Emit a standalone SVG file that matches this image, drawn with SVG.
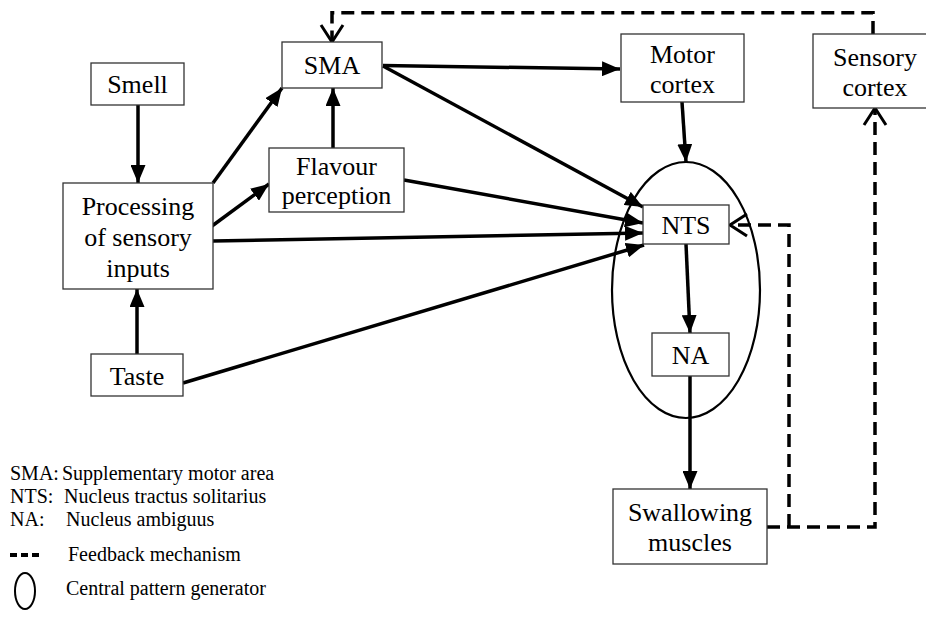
<svg xmlns="http://www.w3.org/2000/svg" width="926" height="626" viewBox="0 0 926 626">
<style>
.box{fill:#fff;stroke:#333;stroke-width:1.3}
text{font-family:"Liberation Serif","Times New Roman","DejaVu Serif",serif}
.t{font-size:26px;fill:#000;text-anchor:middle}
.lg{font-size:20px;fill:#000}
.c{fill:none;stroke:#000;stroke-width:3.5}
.s{marker-end:url(#ah)}
.d{fill:none;stroke:#000;stroke-width:3.5;stroke-dasharray:13 7}
</style>
<defs>
<marker id="ah" markerUnits="userSpaceOnUse" markerWidth="18" markerHeight="15" refX="18" refY="7.5" orient="auto">
<path d="M0,0 L18,7.5 L0,15 z" fill="#000"/>
</marker>
<marker id="ov" markerUnits="userSpaceOnUse" markerWidth="22" markerHeight="26" refX="19" refY="13" orient="auto">
<path d="M2,2 L19,13 L2,24" fill="none" stroke="#000" stroke-width="3"/>
</marker>
</defs>
<g id="cpg"><ellipse cx="686" cy="290" rx="74" ry="128" fill="none" stroke="#000" stroke-width="2.2"/></g>
<g id="connectors">
<line class="c s" x1="138" y1="105" x2="138" y2="183"/>
<line class="c s" x1="137" y1="354" x2="137" y2="289"/>
<line class="c s" x1="213" y1="183" x2="282" y2="88"/>
<line class="c s" x1="212" y1="226" x2="269" y2="184"/>
<line class="c s" x1="213" y1="241" x2="643" y2="233"/>
<line class="c s" x1="333" y1="148" x2="333" y2="88"/>
<line class="c s" x1="404" y1="180" x2="643" y2="223"/>
<line class="c s" x1="383" y1="65.5" x2="620" y2="69"/>
<line class="c s" x1="383" y1="66" x2="643" y2="207"/>
<line class="c s" x1="183" y1="383" x2="644" y2="245"/>
<line class="c s" x1="682" y1="102" x2="686" y2="162"/>
<line class="c s" x1="686" y1="244" x2="690" y2="333"/>
<line class="c s" x1="690" y1="376" x2="690" y2="489"/>
<path class="d" d="M873,34 V12.7 H332 V42" marker-end="url(#ov)"/>
<path class="d" d="M767,527 H875 V108" marker-end="url(#ov)"/>
<path class="d" d="M789,527 V225 H730" marker-end="url(#ov)"/>
</g>
<g id="smell"><rect class="box" x="91" y="63" width="93" height="42"/><text class="t" x="137.5" y="93">Smell</text></g>
<g id="sma"><rect class="box" x="282" y="42" width="100" height="46"/><text class="t" x="332" y="74">SMA</text></g>
<g id="motor"><rect class="box" x="621" y="34" width="123" height="68"/><text class="t" x="682.5" y="63">Motor</text><text class="t" x="682.5" y="93">cortex</text></g>
<g id="sensory"><rect class="box" x="813" y="34" width="120" height="74"/><text class="t" x="875" y="66">Sensory</text><text class="t" x="875" y="96">cortex</text></g>
<g id="flavour"><rect class="box" x="269" y="148" width="135" height="64"/><text class="t" x="336.5" y="175">Flavour</text><text class="t" x="336.5" y="204">perception</text></g>
<g id="processing"><rect class="box" x="63" y="183" width="150" height="106"/><text class="t" x="138" y="215">Processing</text><text class="t" x="138" y="246">of sensory</text><text class="t" x="138" y="277">inputs</text></g>
<g id="taste"><rect class="box" x="91" y="354" width="92" height="42"/><text class="t" x="137" y="385">Taste</text></g>
<g id="nts"><rect class="box" x="643" y="205" width="86" height="39"/><text class="t" x="686" y="234">NTS</text></g>
<g id="na"><rect class="box" x="652" y="333" width="77" height="43"/><text class="t" x="690.5" y="364">NA</text></g>
<g id="swallowing"><rect class="box" x="613" y="489" width="154" height="75"/><text class="t" x="690" y="521">Swallowing</text><text class="t" x="690" y="551">muscles</text></g>
<g id="legend">
<text class="lg" x="10" y="480">SMA:</text><text class="lg" x="62" y="480">Supplementary motor area</text>
<text class="lg" x="10" y="503">NTS:</text><text class="lg" x="64" y="503">Nucleus tractus solitarius</text>
<text class="lg" x="10" y="526">NA:</text><text class="lg" x="66" y="526">Nucleus ambiguus</text>
<line x1="10" y1="555" x2="40" y2="555" stroke="#000" stroke-width="4" stroke-dasharray="7 4"/>
<text class="lg" x="68" y="561">Feedback mechanism</text>
<ellipse cx="25" cy="591" rx="10" ry="18" fill="none" stroke="#000" stroke-width="2"/>
<text class="lg" x="66" y="595">Central pattern generator</text>
</g>
</svg>
